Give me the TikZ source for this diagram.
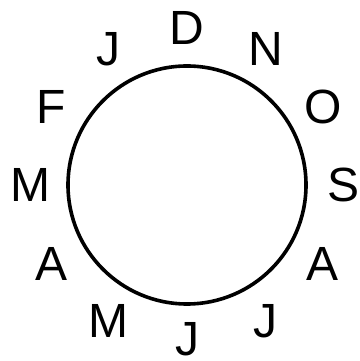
\documentclass[tikz,border=0pt]{standalone}
\usepackage{fontspec}
\setmainfont{Liberation Sans}
\usetikzlibrary{calc}
\begin{document}
\begin{tikzpicture}[x=1pt,y=1pt,
  month/.style={inner sep=0pt, font=\fontsize{48}{48}\selectfont}]
\useasboundingbox (0,0) rectangle (359,361);
\coordinate (c) at (187,176);
\draw[line width=3.6pt] (c) circle (119);
\foreach \ang/\lab/\nm/\r in {90/D/dec/157,60/N/nov/157,30/O/oct/157,0/S/sep/157,-30/A/aug/157,-60/J/jul/157,-90/J/jun/154,-120/M/may/157,-150/A/apr/157,180/M/mar/157,150/F/feb/157,120/J/jan/157}{
  \node[month] (\nm) at ($(c)+(\ang:\r)$) {\lab};
}
\end{tikzpicture}
\end{document}
